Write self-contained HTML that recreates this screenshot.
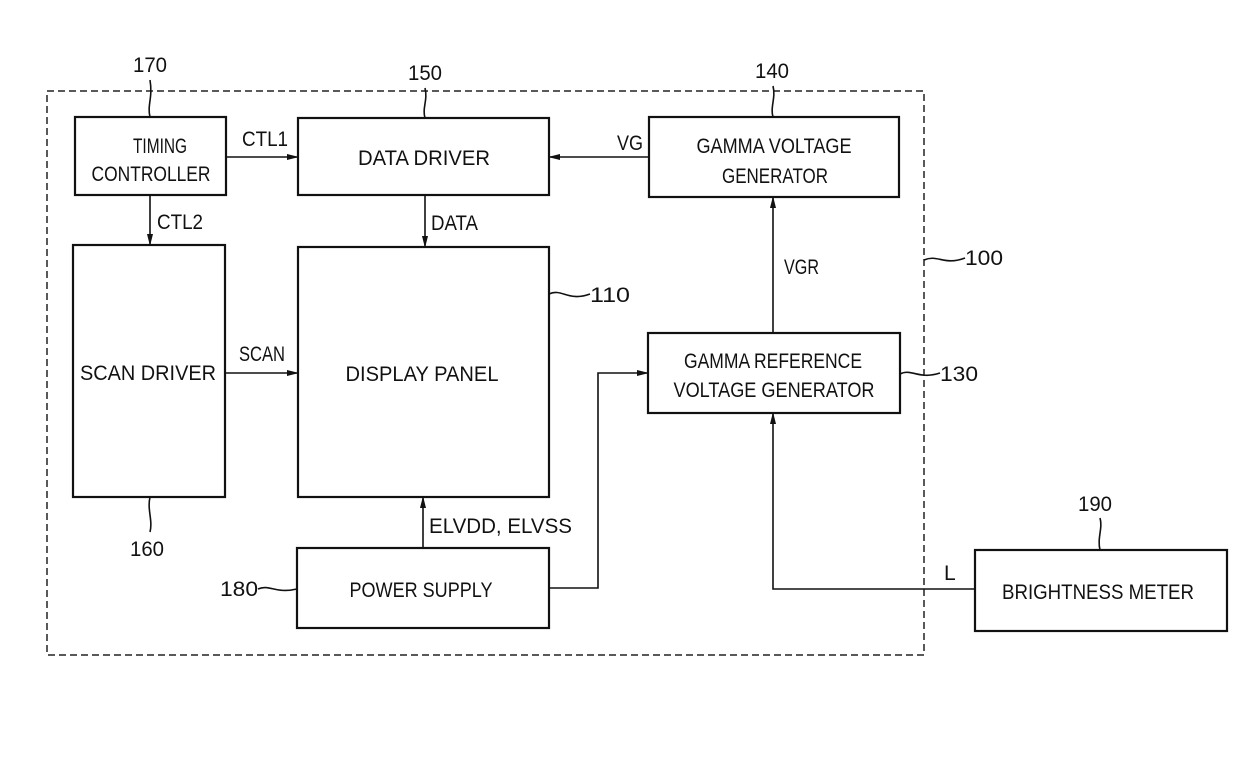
<!DOCTYPE html>
<html><head><meta charset="utf-8"><style>
html,body{margin:0;padding:0;background:#fff;}
svg text{font-family:"Liberation Sans",sans-serif;font-size:21px;fill:#111;}
</style></head><body>
<svg width="1240" height="775" viewBox="0 0 1240 775" xmlns="http://www.w3.org/2000/svg">
<defs><marker id="a" markerWidth="12" markerHeight="8" refX="11" refY="4" orient="auto" markerUnits="userSpaceOnUse"><path d="M0,1 L12,4 L0,7 Z" fill="#111"/></marker></defs>
<rect x="47" y="91" width="877" height="564" fill="none" stroke="#222" stroke-width="1.5" stroke-dasharray="7,4"/>
<g fill="none" stroke="#111" stroke-width="2.2">
<rect x="75" y="117" width="151" height="78"/>
<rect x="298" y="118" width="251" height="77"/>
<rect x="649" y="117" width="250" height="80"/>
<rect x="73" y="245" width="152" height="252"/>
<rect x="298" y="247" width="251" height="250"/>
<rect x="648" y="333" width="252" height="80"/>
<rect x="297" y="548" width="252" height="80"/>
<rect x="975" y="550" width="252" height="81"/>
</g>
<g fill="none" stroke="#111" stroke-width="1.6">
<path d="M226 157 H298" marker-end="url(#a)"/>
<path d="M649 157 H549" marker-end="url(#a)"/>
<path d="M150 195 V245" marker-end="url(#a)"/>
<path d="M425 195 V247" marker-end="url(#a)"/>
<path d="M225 373 H298" marker-end="url(#a)"/>
<path d="M423 548 V497" marker-end="url(#a)"/>
<path d="M549 588 H598 V373 H648" marker-end="url(#a)"/>
<path d="M975 589 H773 V413" marker-end="url(#a)"/>
<path d="M773 333 V197" marker-end="url(#a)"/>
<path d="M150 117 C147 105,153 98,150 80"/>
<path d="M425 118 C422 108,428 100,425 88"/>
<path d="M773 117 C770 107,776 98,773 86"/>
<path d="M150 497 C147 510,153 520,150 532"/>
<path d="M1100 550 C1097 538,1103 528,1100 518"/>
<path d="M549 294 C562 288,568 302,590 294"/>
<path d="M900 374 C912 368,918 380,940 373"/>
<path d="M924 260 C938 254,944 266,965 258"/>
<path d="M258 589 C270 584,275 594,297 589"/>
</g>
<g text-anchor="middle" lengthAdjust="spacingAndGlyphs">
<text x="160" y="153" textLength="54" lengthAdjust="spacingAndGlyphs">TIMING</text>
<text x="151" y="181" textLength="119" lengthAdjust="spacingAndGlyphs">CONTROLLER</text>
<text x="424" y="165" textLength="132" lengthAdjust="spacingAndGlyphs">DATA DRIVER</text>
<text x="774" y="153" textLength="155" lengthAdjust="spacingAndGlyphs">GAMMA VOLTAGE</text>
<text x="775" y="183" textLength="106" lengthAdjust="spacingAndGlyphs">GENERATOR</text>
<text x="148" y="380" textLength="136" lengthAdjust="spacingAndGlyphs">SCAN DRIVER</text>
<text x="422" y="381" textLength="153" lengthAdjust="spacingAndGlyphs">DISPLAY PANEL</text>
<text x="773" y="368" textLength="178" lengthAdjust="spacingAndGlyphs">GAMMA REFERENCE</text>
<text x="774" y="397" textLength="201" lengthAdjust="spacingAndGlyphs">VOLTAGE GENERATOR</text>
<text x="421" y="597" textLength="143" lengthAdjust="spacingAndGlyphs">POWER SUPPLY</text>
<text x="1098" y="599" textLength="192" lengthAdjust="spacingAndGlyphs">BRIGHTNESS METER</text>
<text x="150" y="72" textLength="34" lengthAdjust="spacingAndGlyphs">170</text>
<text x="425" y="80" textLength="34" lengthAdjust="spacingAndGlyphs">150</text>
<text x="772" y="78" textLength="34" lengthAdjust="spacingAndGlyphs">140</text>
<text x="147" y="556" textLength="34" lengthAdjust="spacingAndGlyphs">160</text>
<text x="1095" y="511" textLength="34" lengthAdjust="spacingAndGlyphs">190</text>
</g>
<text x="242" y="146" textLength="46" lengthAdjust="spacingAndGlyphs">CTL1</text>
<text x="157" y="229" textLength="46" lengthAdjust="spacingAndGlyphs">CTL2</text>
<text x="431" y="230" textLength="47" lengthAdjust="spacingAndGlyphs">DATA</text>
<text x="239" y="361" textLength="46" lengthAdjust="spacingAndGlyphs">SCAN</text>
<text x="429" y="533" textLength="143" lengthAdjust="spacingAndGlyphs">ELVDD, ELVSS</text>
<text x="617" y="150" textLength="26" lengthAdjust="spacingAndGlyphs">VG</text>
<text x="784" y="274" textLength="35" lengthAdjust="spacingAndGlyphs">VGR</text>
<text x="944" y="580">L</text>
<text x="590" y="302" textLength="40" lengthAdjust="spacingAndGlyphs">110</text>
<text x="940" y="381" textLength="38" lengthAdjust="spacingAndGlyphs">130</text>
<text x="965" y="265" textLength="38" lengthAdjust="spacingAndGlyphs">100</text>
<text x="220" y="596" textLength="38" lengthAdjust="spacingAndGlyphs">180</text>
</svg>
</body></html>
